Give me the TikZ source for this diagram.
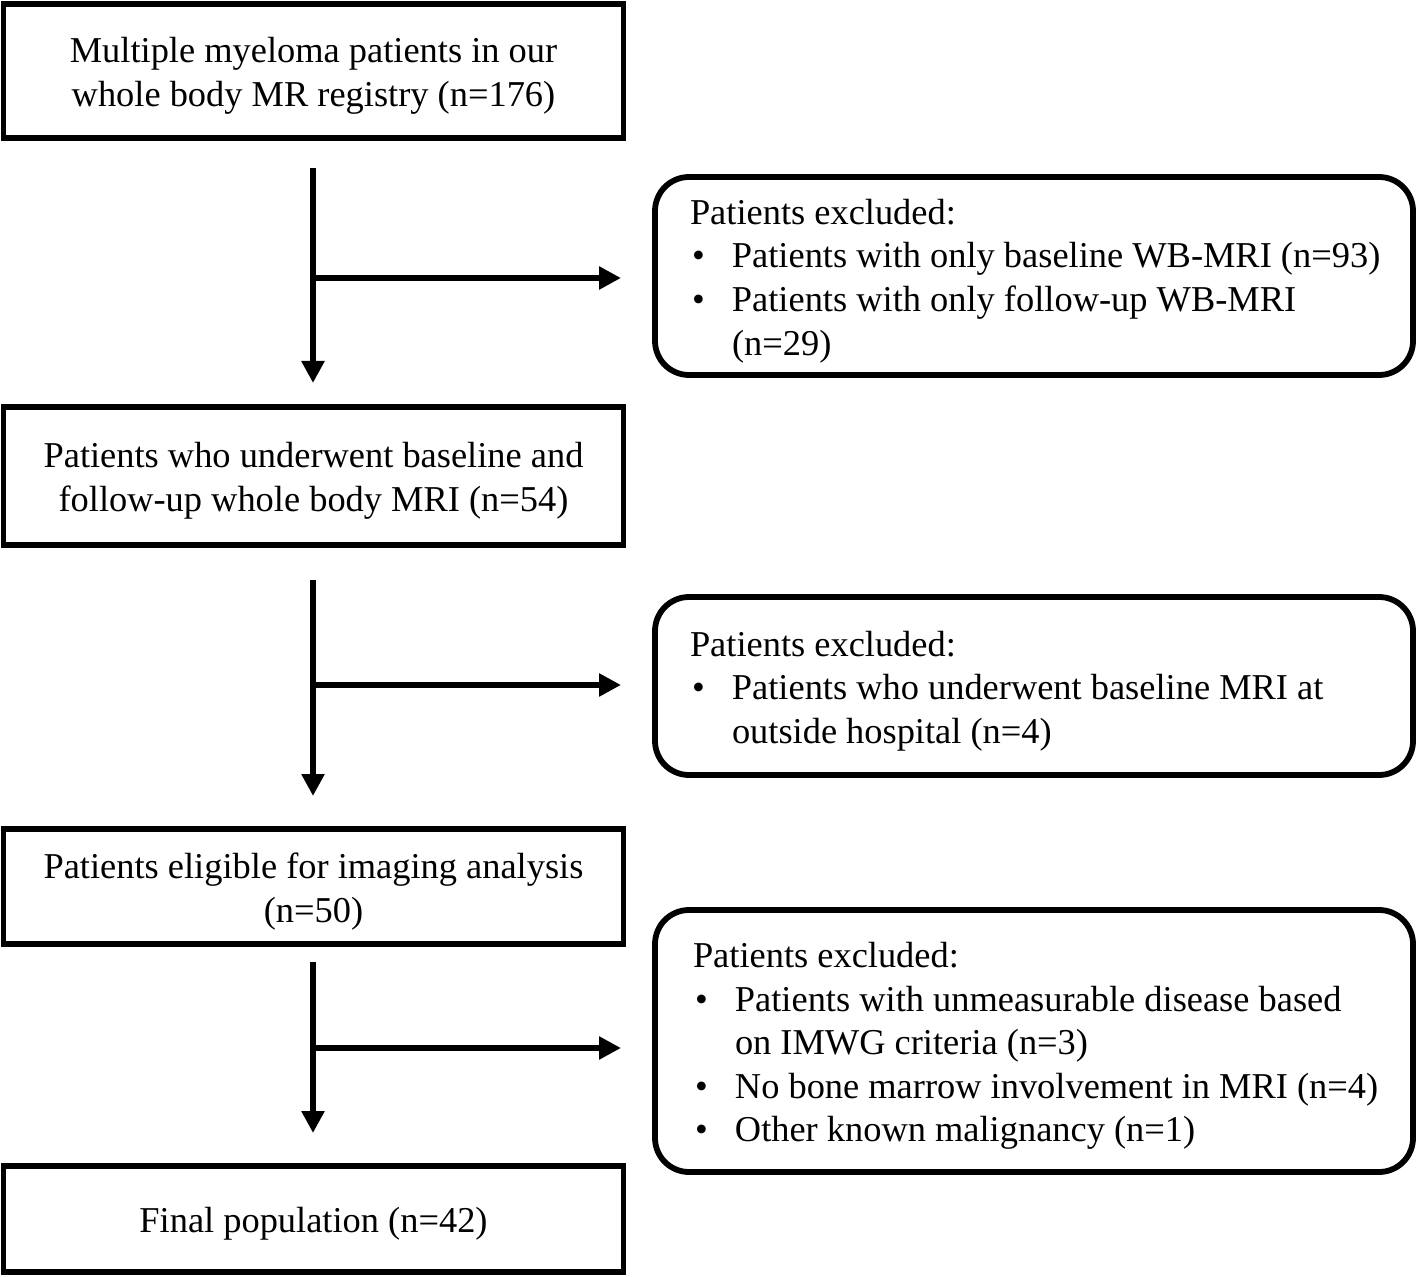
\documentclass[tikz,border=0pt]{standalone}
\usepackage{fontspec}
\setmainfont{Liberation Serif}
\usetikzlibrary{arrows.meta}
\begin{document}
\begin{tikzpicture}[x=0.5pt,y=-0.5pt,
  every node/.style={font=\fontsize{18.2}{21.8}\selectfont},
  mainbox/.style={draw, line width=2.9pt, minimum width=310pt, inner sep=0pt},
  maintext/.style={inner sep=0pt, align=center},
  exbox/.style={draw, line width=2.9pt, rounded corners=17pt, minimum width=379pt, inner sep=0pt},
  extext/.style={inner sep=0pt, text width=344pt, align=flush left},
  flow/.style={line width=2.9pt, -{Triangle[width=11pt,length=11pt]}}
]
\useasboundingbox (0,0) rectangle (1418,1277);
\newcommand{\bitem}[1]{\makebox[21pt][l]{\hspace*{1pt}•}\mbox{#1}}
\newcommand{\bcont}[1]{\hspace*{21pt}\mbox{#1}}

\node[mainbox, minimum width=310pt, minimum height=67pt] (b1) at (313.5,71) {};
\node[mainbox, minimum height=69pt] (b2) at (313.5,476) {};
\node[mainbox, minimum height=57.5pt] (b3) at (313.5,886.5) {};
\node[mainbox, minimum height=53pt] (b4) at (313.5,1219) {};
\node[maintext] (t1) at ([yshift=-2.5pt]b1.center) {Multiple myeloma patients in our\\whole body MR registry (n=176)};
\node[maintext] (t2) at ([yshift=-2.5pt]b2.center) {Patients who underwent baseline and\\follow-up whole body MRI (n=54)};
\node[maintext] (t3) at ([yshift=-2.5pt]b3.center) {Patients eligible for imaging analysis\\(n=50)};
\node[maintext] (t4) at ([yshift=-2.5pt]b4.center) {Final population (n=42)};

\node[exbox, minimum height=99pt] (r1) at (1034,276) {};
\node[exbox, minimum height=89pt] (r2) at (1034,686) {};
\node[exbox, minimum height=131pt] (r3) at (1034,1041) {};
\node[extext] (e1) at ([yshift=-2.5pt]r1.center) {Patients excluded:\\\bitem{Patients with only baseline WB-MRI (n=93)}\\\bitem{Patients with only follow-up WB-MRI}\\\bcont{(n=29)}};
\node[extext] (e2) at ([yshift=-2.5pt]r2.center) {Patients excluded:\\\bitem{Patients who underwent baseline MRI at}\\\bcont{outside hospital (n=4)}};
\node[extext, text width=341pt] (e3) at ([yshift=-2.5pt]r3.center) {Patients excluded:\\\bitem{Patients with unmeasurable disease based}\\\bcont{on IMWG criteria (n=3)}\\\bitem{No bone marrow involvement in MRI (n=4)}\\\bitem{Other known malignancy (n=1)}};

\coordinate (a1s) at (313,168);
\coordinate (a1e) at (313,383);
\coordinate (a1j) at (313,278);
\coordinate (a1h) at (621,278);
\coordinate (a2s) at (313,580);
\coordinate (a2e) at (313,796);
\coordinate (a2j) at (313,685);
\coordinate (a2h) at (621,685);
\coordinate (a3s) at (313,962);
\coordinate (a3e) at (313,1133);
\coordinate (a3j) at (313,1048);
\coordinate (a3h) at (621,1048);

\draw[flow] (a1s) -- (a1e);
\draw[flow] (a1j) -- (a1h);
\draw[flow] (a2s) -- (a2e);
\draw[flow] (a2j) -- (a2h);
\draw[flow] (a3s) -- (a3e);
\draw[flow] (a3j) -- (a3h);
\end{tikzpicture}
\end{document}
